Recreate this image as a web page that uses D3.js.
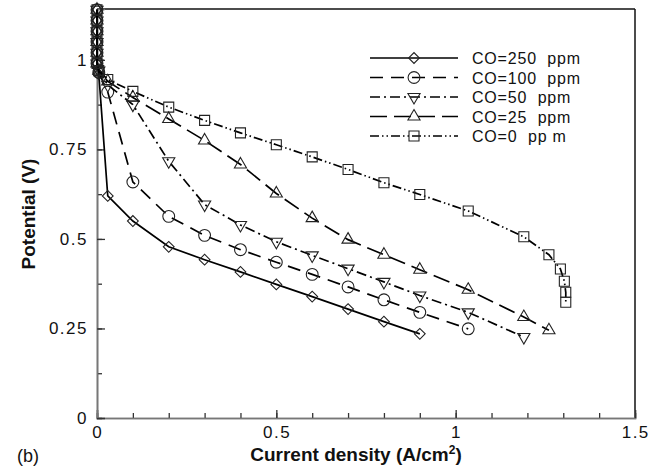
<!DOCTYPE html>
<html lang="en">
<head>
    <meta charset="UTF-8">
    <title>Polarization curves at different CO levels</title>
    <script src="https://d3js.org/d3.v7.min.js"></script>
    <style>
        * { margin: 0; padding: 0; box-sizing: border-box; }
        body { background: #ffffff; font-family: 'Liberation Sans', Arial, Helvetica, sans-serif; }
        .tick-label { font-size: 17px; fill: #111; letter-spacing: 1.5px; }
        .axis-title { font-size: 19px; font-weight: bold; fill: #111; }
        .legend-text { font-size: 16px; fill: #111; letter-spacing: 0.8px; white-space: pre; }
    </style>
</head>
<body>
    <div id="chart"></div>

    <script>
        // Data (current density in A/cm2, potential in V)
        const co250X = [0, 0, 0, 0, 0, 0, 0.005, 0.03, 0.1, 0.2, 0.3, 0.4, 0.5, 0.6, 0.7, 0.8, 0.9];
        const co250V = [1.14, 1.11, 1.08, 1.05, 1.02, 0.99, 0.96, 0.62, 0.55, 0.478, 0.442, 0.408, 0.373, 0.339, 0.304, 0.269, 0.235];

        const co100X = [0, 0, 0, 0, 0, 0, 0.005, 0.03, 0.1, 0.2, 0.3, 0.4, 0.5, 0.6, 0.7, 0.8, 0.9, 1.035];
        const co100V = [1.14, 1.11, 1.08, 1.05, 1.02, 0.99, 0.965, 0.91, 0.659, 0.563, 0.51, 0.47, 0.435, 0.401, 0.366, 0.33, 0.295, 0.249];

        const co50X = [0, 0, 0, 0, 0, 0, 0.005, 0.03, 0.1, 0.2, 0.3, 0.4, 0.5, 0.6, 0.7, 0.8, 0.9, 1.035, 1.19];
        const co50V = [1.14, 1.11, 1.08, 1.05, 1.02, 0.99, 0.97, 0.93, 0.875, 0.717, 0.596, 0.539, 0.492, 0.454, 0.417, 0.38, 0.342, 0.295, 0.226];

        const co25X = [0, 0, 0, 0, 0, 0, 0.005, 0.03, 0.1, 0.2, 0.3, 0.4, 0.5, 0.6, 0.7, 0.8, 0.9, 1.035, 1.19, 1.26];
        const co25V = [1.14, 1.11, 1.08, 1.05, 1.02, 0.99, 0.97, 0.94, 0.895, 0.835, 0.775, 0.708, 0.627, 0.558, 0.498, 0.456, 0.414, 0.358, 0.282, 0.245];

        const co0X = [0, 0, 0, 0, 0, 0, 0.005, 0.03, 0.1, 0.2, 0.3, 0.4, 0.5, 0.6, 0.7, 0.8, 0.9, 1.035, 1.19, 1.26, 1.292, 1.303, 1.307, 1.307];
        const co0V = [1.14, 1.11, 1.08, 1.05, 1.02, 0.99, 0.97, 0.945, 0.912, 0.868, 0.831, 0.796, 0.763, 0.729, 0.694, 0.657, 0.624, 0.578, 0.506, 0.456, 0.416, 0.382, 0.351, 0.323];

        const legendLabels = ["CO=250  ppm", "CO=100  ppm", "CO=50  ppm", "CO=25  ppm", "CO=0  pp m"];
        const xTickValues = [0, 0.5, 1, 1.5];
        const xTickLabels = ["0", "0.5", "1", "1.5"];
        const yTickValues = [0, 0.25, 0.5, 0.75, 1];
        const yTickLabels = ["0", "0.25", "0.5", "0.75", "1"];

        const width = 666, height = 470;
        const margin = {top: 9, right: 31, bottom: 52, left: 97};
        const plotW = width - margin.left - margin.right;
        const plotH = height - margin.top - margin.bottom;

        const x = d3.scaleLinear().domain([0, 1.5]).range([0, plotW]);
        const y = d3.scaleLinear().domain([0, 1.142]).range([plotH, 0]);

        const series = [
            {xs: co250X, vs: co250V, dash: null,              marker: "diamond"},
            {xs: co100X, vs: co100V, dash: "13,8",            marker: "circle"},
            {xs: co50X,  vs: co50V,  dash: "10,4,2,4",        marker: "triDown"},
            {xs: co25X,  vs: co25V,  dash: "17,7",            marker: "triUp"},
            {xs: co0X,   vs: co0V,   dash: "9,3,1.5,3,1.5,3", marker: "square"}
        ];

        function markerPath(kind) {
            if (kind === "diamond") return d3.symbol(d3.symbolSquare, 58)();
            if (kind === "circle") return d3.symbol(d3.symbolCircle, 110)();
            if (kind === "triUp" || kind === "triDown") return d3.symbol(d3.symbolTriangle, 64)();
            return d3.symbol(d3.symbolSquare, 100)();
        }
        function markerRotate(kind) {
            if (kind === "diamond") return " rotate(45)";
            if (kind === "triDown") return " rotate(180)";
            return "";
        }

        const svg = d3.select("#chart").append("svg")
            .attr("width", width)
            .attr("height", height);

        const g = svg.append("g")
            .attr("transform", `translate(${margin.left},${margin.top})`);

        // Frame: top and right in black, axes in grey
        g.append("line").attr("x1", 0).attr("x2", plotW).attr("y1", 0).attr("y2", 0)
            .attr("stroke", "#111").attr("stroke-width", 1.5);
        g.append("line").attr("x1", plotW).attr("x2", plotW).attr("y1", 0).attr("y2", plotH)
            .attr("stroke", "#111").attr("stroke-width", 1.5);

        // x axis with inward ticks
        const xAxis = g.append("g").attr("transform", `translate(0,${plotH})`);
        xAxis.call(d3.axisBottom(x).tickValues(d3.range(0, 1.51, 0.1)).tickSize(-5).tickFormat(""));
        xAxis.selectAll(".tick line").attr("stroke", "#333").attr("stroke-width", 1.3);
        xAxis.append("g").call(d3.axisBottom(x).tickValues(xTickValues).tickSize(-8).tickFormat(""))
            .selectAll(".tick line").attr("stroke", "#333").attr("stroke-width", 1.3);
        xAxis.selectAll(".domain").attr("stroke", "#777").attr("stroke-width", 1.6);

        // y axis with inward ticks
        const yAxis = g.append("g");
        yAxis.call(d3.axisLeft(y).tickValues(d3.range(0, 1.13, 0.125)).tickSize(-5).tickFormat(""));
        yAxis.selectAll(".tick line").attr("stroke", "#333").attr("stroke-width", 1.3);
        yAxis.append("g").call(d3.axisLeft(y).tickValues(yTickValues).tickSize(-8).tickFormat(""))
            .selectAll(".tick line").attr("stroke", "#333").attr("stroke-width", 1.3);
        yAxis.selectAll(".domain").attr("stroke", "#777").attr("stroke-width", 1.6);

        // tick labels
        g.selectAll(".xlab").data(xTickValues).enter().append("text")
            .attr("class", "tick-label")
            .attr("x", d => x(d) + 0.75)
            .attr("y", plotH + 20)
            .attr("text-anchor", "middle")
            .text((d, i) => xTickLabels[i]);

        g.selectAll(".ylab").data(yTickValues).enter().append("text")
            .attr("class", "tick-label")
            .attr("x", -9)
            .attr("y", d => y(d) + 6)
            .attr("text-anchor", "end")
            .text((d, i) => yTickLabels[i]);

        // axis titles
        svg.append("text").attr("class", "axis-title")
            .attr("transform", `translate(35,214) rotate(-90)`)
            .attr("text-anchor", "middle")
            .text("Potential (V)");

        const xt = svg.append("text").attr("class", "axis-title")
            .attr("x", 356).attr("y", 461)
            .attr("text-anchor", "middle");
        xt.append("tspan").text("Current density (A/cm");
        xt.append("tspan").attr("font-size", "12px").attr("dy", -7).text("2");
        xt.append("tspan").attr("dy", 7).text(")");

        svg.append("text").attr("x", 17).attr("y", 462)
            .style("font-size", "18px").style("fill", "#111").text("(b)");

        // curves
        const line = d3.line().x(d => x(d[0])).y(d => y(d[1]));

        series.forEach(s => {
            const pts = s.xs.map((v, i) => [v, s.vs[i]]);
            g.append("path").datum(pts)
                .attr("d", line)
                .attr("fill", "none")
                .attr("stroke", "#000")
                .attr("stroke-width", 1.7)
                .attr("stroke-dasharray", s.dash);

            g.selectAll(null).data(pts).enter().append("path")
                .attr("d", markerPath(s.marker))
                .attr("transform", d => `translate(${x(d[0])},${y(d[1])})` + markerRotate(s.marker))
                .attr("fill", "none")
                .attr("stroke", "#222")
                .attr("stroke-width", 1.1);
        });

        // legend
        const legend = svg.append("g").attr("transform", "translate(370,58)");
        series.forEach((s, i) => {
            const row = legend.append("g").attr("transform", `translate(0,${i * 19.5})`);
            row.append("line").attr("x1", 0).attr("x2", 88).attr("y1", 0).attr("y2", 0)
                .attr("stroke", "#000").attr("stroke-width", 1.7)
                .attr("stroke-dasharray", s.dash);
            row.append("path")
                .attr("d", markerPath(s.marker))
                .attr("transform", "translate(44,0)" + markerRotate(s.marker))
                .attr("fill", "none").attr("stroke", "#222").attr("stroke-width", 1.1);
            row.append("text").attr("class", "legend-text")
                .attr("x", 102).attr("y", 6)
                .text(legendLabels[i]);
        });
    </script>
</body>
</html>
